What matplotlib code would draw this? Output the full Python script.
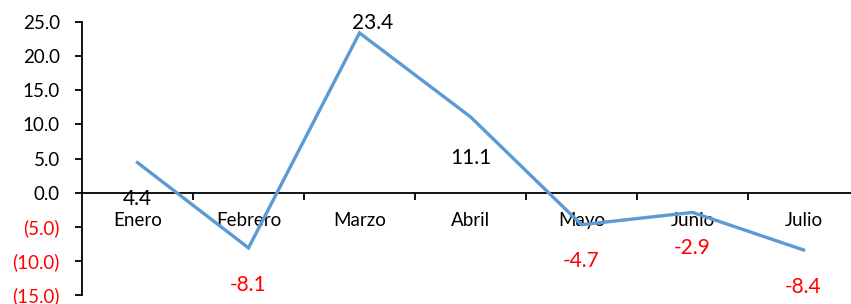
import matplotlib
matplotlib.use("Agg")
import matplotlib.pyplot as plt
from matplotlib.ticker import FixedLocator, FuncFormatter

months = ["Enero", "Febrero", "Marzo", "Abril", "Mayo", "Junio", "Julio"]
values = [4.4, -8.1, 23.4, 11.1, -4.7, -2.9, -8.4]
yticks = [-15, -10, -5, 0, 5, 10, 15, 20, 25]

# label placement (data coords) for the data labels
label_pos = [(0, -0.9), (1, -13.5), (2.12, 24.9), (3, 5.0), (4, -10.0), (5, -8.1), (6, -13.9)]

plt.rcParams['font.family'] = ['Lato', 'DejaVu Sans']

fig = plt.figure(figsize=(8.51, 3.04), dpi=100)
ax = fig.add_axes([82/851, 9/304, 777/851, 273/304])

x = list(range(len(months)))
ax.plot(x, values, color="#5B9BD5", lw=2.4, solid_joinstyle='miter', zorder=3)

ax.set_xlim(-0.5, len(months) - 0.5)
ax.set_ylim(-15, 25)

for s in ["top", "right"]:
    ax.spines[s].set_visible(False)
ax.spines["bottom"].set_position(("data", 0))
ax.spines["left"].set_linewidth(1.3)
ax.spines["bottom"].set_linewidth(1.3)

ax.set_yticks(yticks)
ax.yaxis.set_major_formatter(FuncFormatter(lambda v, p: f"({abs(v):.1f})" if v < 0 else f"{v:.1f}"))
ax.tick_params(axis="y", length=5, width=1.3, labelsize=13.5, pad=11)
for lab, v in zip(ax.get_yticklabels(), yticks):
    lab.set_color("red" if v < 0 else "black")

ax.xaxis.set_major_locator(FixedLocator([i + 0.5 for i in range(len(months) - 1)]))
ax.xaxis.set_major_formatter(FuncFormatter(lambda v, p: ""))
ax.xaxis.set_minor_locator(FixedLocator(x))
ax.set_xticklabels(months, minor=True)
ax.tick_params(axis="x", which="major", length=5, width=1.3, direction="out")
ax.tick_params(axis="x", which="minor", length=0, labelsize=13.5, pad=14)

for (px, py), v in zip(label_pos, values):
    ax.text(px, py, f"{v:.1f}", ha="center", va="center", fontsize=15,
            color="red" if v < 0 else "black", zorder=4)

fig.savefig("out.png", dpi=100)
